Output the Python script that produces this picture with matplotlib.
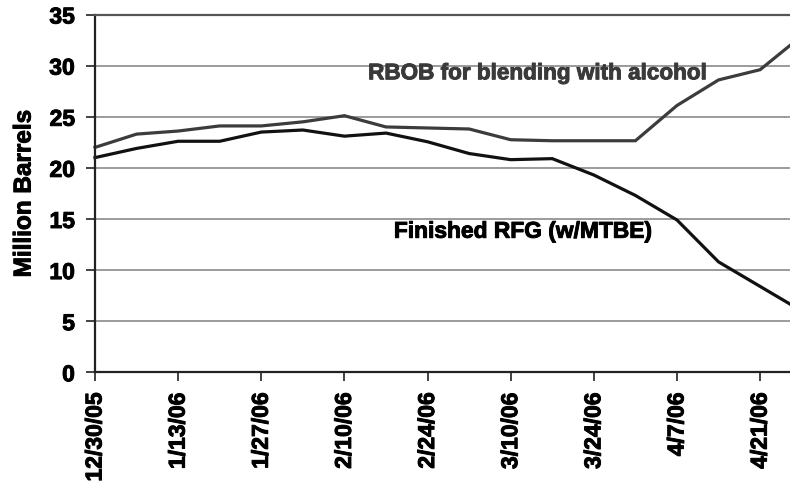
import matplotlib
matplotlib.use("Agg")
import matplotlib.pyplot as plt
import matplotlib.patheffects as pe

plt.rcParams['font.family'] = ['Liberation Sans', 'DejaVu Sans']
plt.rcParams['font.weight'] = 'bold'

dates = ["12/30/05", "1/6/06", "1/13/06", "1/20/06", "1/27/06", "2/3/06", "2/10/06",
         "2/17/06", "2/24/06", "3/3/06", "3/10/06", "3/17/06", "3/24/06", "3/31/06",
         "4/7/06", "4/14/06", "4/21/06", "4/28/06"]
rbob = [22.0, 23.3, 23.6, 24.1, 24.1, 24.5, 25.1, 24.0, 23.9, 23.8, 22.75, 22.65,
        22.65, 22.65, 26.1, 28.6, 29.6, 32.9]
rfg = [21.0, 21.9, 22.6, 22.6, 23.5, 23.7, 23.1, 23.4, 22.55, 21.4, 20.8, 20.9,
       19.3, 17.3, 14.9, 10.8, 8.4, 6.0]
yticks = [0, 5, 10, 15, 20, 25, 30, 35]

W, H = 790, 485
fig = plt.figure(figsize=(W / 100, H / 100), dpi=100)
left_px, right_px = 95, 810
bottom_px, top_px = 373.3, 15.5
ax = fig.add_axes([left_px / W, (H - bottom_px) / H,
                   (right_px - left_px) / W, (bottom_px - top_px) / H])

x = list(range(len(dates)))
ax.plot(x, rbob, color='#3c3c3c', lw=2.3, solid_joinstyle='miter', clip_on=False)
ax.plot(x, rfg, color='#111111', lw=2.3, solid_joinstyle='miter', clip_on=False)

ax.set_xlim(0, 17.2)
ax.set_ylim(0, 35)
ax.set_yticks(yticks)
ax.set_yticklabels([str(v) for v in yticks])
ax.set_xticks(x[::2])
ax.set_xticklabels(dates[::2], rotation=90, va='top', ha='center')

ax.yaxis.grid(True, color='#8a8a8a', lw=1.2)
ax.set_axisbelow(True)
ax.spines['right'].set_visible(False)
ax.spines['top'].set_color('#555555')
ax.spines['top'].set_linewidth(1.6)
for s in ['left', 'bottom']:
    ax.spines[s].set_color('#222222')
    ax.spines[s].set_linewidth(1.6)

ax.tick_params(axis='y', direction='out', length=6.5, width=1.2, pad=8,
               labelsize=16.5, colors='#222222', labelcolor='black')
ax.tick_params(axis='x', direction='out', length=6.5, width=1.2, pad=8,
               labelsize=16.5, colors='#222222', labelcolor='black')

stroke_black = [pe.withStroke(linewidth=0.7, foreground='black')]
for lab in ax.get_xticklabels() + ax.get_yticklabels():
    lab.set_fontweight('bold')
    lab.set_path_effects(stroke_black)

ax.set_ylabel("Million Barrels", fontsize=17.5, fontweight='bold')
ax.yaxis.set_label_coords((24 - left_px) / (right_px - left_px), 0.5)
ax.yaxis.label.set_va('center')
ax.yaxis.label.set_path_effects(stroke_black)

ax.text(6.57, 29.2, "RBOB for blending with alcohol", fontsize=16.2, fontweight='bold',
        color='#3a3a3a', ha='left', va='center',
        path_effects=[pe.withStroke(linewidth=0.7, foreground='#3a3a3a')])
ax.text(7.19, 13.8, "Finished RFG (w/MTBE)", fontsize=16.4, fontweight='bold',
        color='black', ha='left', va='center', path_effects=stroke_black)

fig.savefig("out.png", dpi=100)
